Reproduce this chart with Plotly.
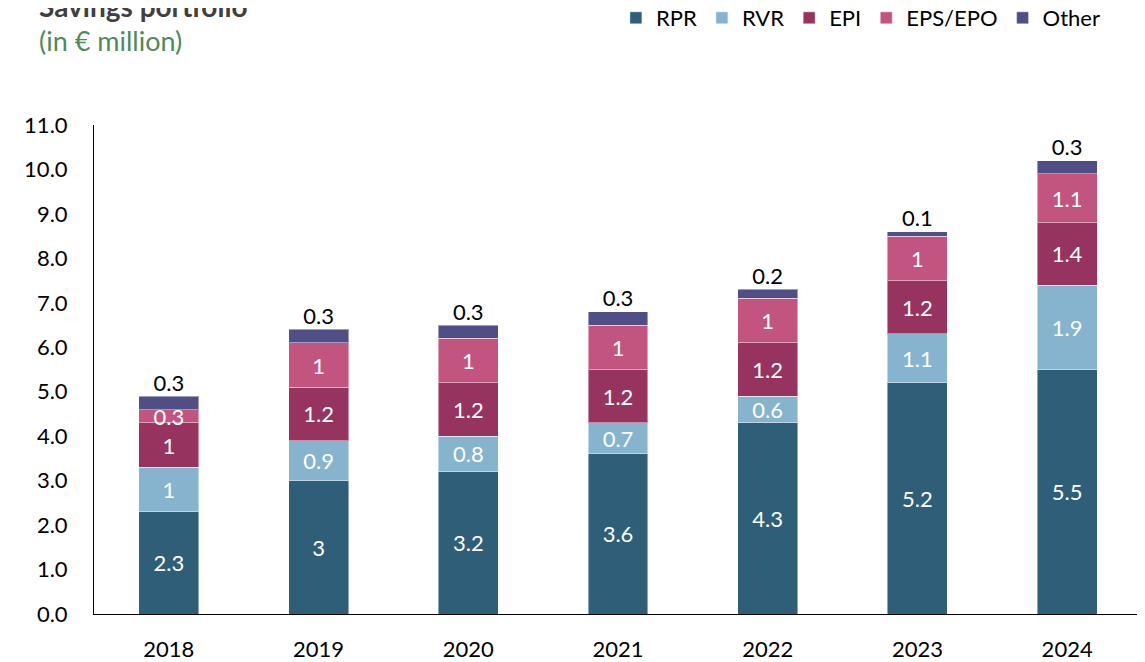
import plotly.graph_objects as go

years = ["2018", "2019", "2020", "2021", "2022", "2023", "2024"]
rpr = [2.3, 3, 3.2, 3.6, 4.3, 5.2, 5.5]
rvr = [1, 0.9, 0.8, 0.7, 0.6, 1.1, 1.9]
epi = [1, 1.2, 1.2, 1.2, 1.2, 1.2, 1.4]
eps = [0.3, 1, 1, 1, 1, 1, 1.1]
other = [0.3, 0.3, 0.3, 0.3, 0.2, 0.1, 0.3]
y_ticks = [0, 1, 2, 3, 4, 5, 6, 7, 8, 9, 10, 11]

FONT = "Lato"
FS = 22
series = [
    ("RPR", rpr, "#2F5E78"),
    ("RVR", rvr, "#86B4CE"),
    ("EPI", epi, "#96345F"),
    ("EPS/EPO", eps, "#C2557F"),
]

fig = go.Figure()
for name, vals, color in series:
    fig.add_trace(go.Bar(
        name=name, x=years, y=vals,
        marker=dict(color=color, line=dict(color="rgba(255,255,255,0.45)", width=1)),
        text=[f"{v:g}" for v in vals], textposition="inside",
        insidetextanchor="middle", constraintext="none",
        textfont=dict(family=FONT, size=FS, color="white"),
        hoverinfo="skip",
    ))
fig.add_trace(go.Bar(
    name="Other", x=years, y=other,
    marker=dict(color="#4F4F86", line=dict(color="rgba(255,255,255,0.45)", width=1)),
    textposition="none", hoverinfo="skip",
))
totals = [round(a + b + c + d + e, 2) for a, b, c, d, e in zip(rpr, rvr, epi, eps, other)]
fig.add_trace(go.Scatter(
    x=years, y=totals, mode="text", text=[f"{v:g}" for v in other],
    textposition="top center", textfont=dict(family=FONT, size=FS, color="black"),
    showlegend=False, hoverinfo="skip",
))

H = 489.0
T = 117
fig.update_layout(
    barmode="stack", bargap=0.6,
    width=1137, height=654,
    margin=dict(l=86, r=3, t=T, b=48, autoexpand=False),
    plot_bgcolor="white", paper_bgcolor="white",
    font=dict(family=FONT, size=FS, color="black"),
    showlegend=True,
    legend=dict(orientation="h", x=0.498, xanchor="left", y=1 + (T - 10) / H, yanchor="middle",
                font=dict(family=FONT, size=FS, color="black"), traceorder="normal",
                itemwidth=30, bgcolor="rgba(0,0,0,0)"),
    annotations=[
        dict(text="<b>Savings portfolio</b>", xref="paper", yref="paper",
             x=-0.054, y=1 + (T + 2) / H, xanchor="left", yanchor="middle", showarrow=False,
             font=dict(family=FONT, size=28, color="#404040")),
        dict(text="(in € million)", xref="paper", yref="paper",
             x=-0.054, y=1 + (T - 32) / H, xanchor="left", yanchor="middle", showarrow=False,
             font=dict(family=FONT, size=27, color="#4E8A5A")),
    ],
)
fig.update_yaxes(range=[0, 11], tickvals=y_ticks, tickformat=".1f", showgrid=False,
                 showline=True, linecolor="black", linewidth=1, ticks="",
                 ticklabelstandoff=21, tickfont=dict(family=FONT, size=FS), zeroline=False)
fig.update_xaxes(showline=True, linecolor="black", linewidth=1, ticks="",
                 tickfont=dict(family=FONT, size=FS), ticklabelstandoff=16)

fig.write_html("out.html")
